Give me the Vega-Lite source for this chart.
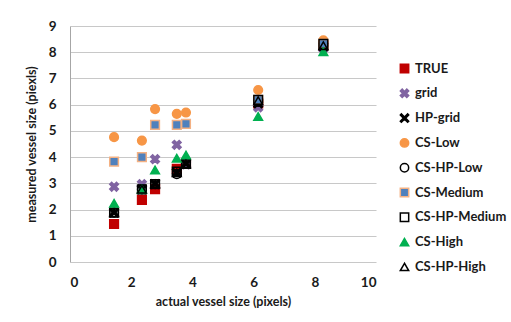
{
  "$schema": "https://vega.github.io/schema/vega-lite/v6.json",
  "autosize": "none",
  "width": 306,
  "height": 236,
  "padding": {"left": 70, "top": 26, "right": 135, "bottom": 60},
  "background": "white",
  "config": {
    "view": {"stroke": null},
    "font": "Lato",
    "axis": {"labelFont": "Lato", "titleFont": "Lato", "labelFontWeight": "bold", "titleFontWeight": "bold", "labelColor": "#1a1a1a", "titleColor": "#1a1a1a", "labelFontSize": 13.5, "titleFontSize": 12.5, "ticks": false, "domainColor": "#a6a6a6", "gridColor": "#c8c8c8", "gridWidth": 1.2}
  },
  "data": {
    "values": [
      {"x": 1.44, "y": 1.45, "s": "TRUE"},
      {"x": 2.35, "y": 2.37, "s": "TRUE"},
      {"x": 2.78, "y": 2.78, "s": "TRUE"},
      {"x": 3.49, "y": 3.55, "s": "TRUE"},
      {"x": 3.79, "y": 3.75, "s": "TRUE"},
      {"x": 6.15, "y": 6.05, "s": "TRUE"},
      {"x": 8.28, "y": 8.25, "s": "TRUE"},
      {"x": 1.44, "y": 2.87, "s": "grid"},
      {"x": 2.35, "y": 2.97, "s": "grid"},
      {"x": 2.78, "y": 3.92, "s": "grid"},
      {"x": 3.49, "y": 4.47, "s": "grid"},
      {"x": 3.79, "y": 3.72, "s": "grid"},
      {"x": 6.15, "y": 5.9, "s": "grid"},
      {"x": 8.28, "y": 8.15, "s": "grid"},
      {"x": 1.44, "y": 1.88, "s": "HP-grid"},
      {"x": 2.35, "y": 2.77, "s": "HP-grid"},
      {"x": 2.78, "y": 2.97, "s": "HP-grid"},
      {"x": 3.49, "y": 3.4, "s": "HP-grid"},
      {"x": 3.79, "y": 3.74, "s": "HP-grid"},
      {"x": 6.15, "y": 6.05, "s": "HP-grid"},
      {"x": 8.28, "y": 8.22, "s": "HP-grid"},
      {"x": 1.44, "y": 4.76, "s": "CS-Low"},
      {"x": 2.35, "y": 4.63, "s": "CS-Low"},
      {"x": 2.78, "y": 5.83, "s": "CS-Low"},
      {"x": 3.49, "y": 5.65, "s": "CS-Low"},
      {"x": 3.79, "y": 5.7, "s": "CS-Low"},
      {"x": 6.15, "y": 6.56, "s": "CS-Low"},
      {"x": 8.28, "y": 8.45, "s": "CS-Low"},
      {"x": 1.44, "y": 1.88, "s": "CS-HP-Low"},
      {"x": 2.35, "y": 2.77, "s": "CS-HP-Low"},
      {"x": 2.78, "y": 2.97, "s": "CS-HP-Low"},
      {"x": 3.49, "y": 3.35, "s": "CS-HP-Low"},
      {"x": 3.79, "y": 3.74, "s": "CS-HP-Low"},
      {"x": 6.15, "y": 6.1, "s": "CS-HP-Low"},
      {"x": 8.28, "y": 8.28, "s": "CS-HP-Low"},
      {"x": 1.44, "y": 3.83, "s": "CS-Medium"},
      {"x": 2.35, "y": 4.0, "s": "CS-Medium"},
      {"x": 2.78, "y": 5.23, "s": "CS-Medium"},
      {"x": 3.49, "y": 5.23, "s": "CS-Medium"},
      {"x": 3.79, "y": 5.27, "s": "CS-Medium"},
      {"x": 6.15, "y": 6.18, "s": "CS-Medium"},
      {"x": 8.28, "y": 8.32, "s": "CS-Medium"},
      {"x": 1.44, "y": 1.88, "s": "CS-HP-Medium"},
      {"x": 2.35, "y": 2.77, "s": "CS-HP-Medium"},
      {"x": 2.78, "y": 2.97, "s": "CS-HP-Medium"},
      {"x": 3.49, "y": 3.45, "s": "CS-HP-Medium"},
      {"x": 3.79, "y": 3.74, "s": "CS-HP-Medium"},
      {"x": 6.15, "y": 6.18, "s": "CS-HP-Medium"},
      {"x": 8.28, "y": 8.32, "s": "CS-HP-Medium"},
      {"x": 1.44, "y": 2.24, "s": "CS-High"},
      {"x": 2.35, "y": 2.77, "s": "CS-High"},
      {"x": 2.78, "y": 3.51, "s": "CS-High"},
      {"x": 3.49, "y": 3.96, "s": "CS-High"},
      {"x": 3.79, "y": 4.08, "s": "CS-High"},
      {"x": 6.15, "y": 5.55, "s": "CS-High"},
      {"x": 8.28, "y": 8.02, "s": "CS-High"},
      {"x": 1.44, "y": 1.88, "s": "CS-HP-High"},
      {"x": 2.35, "y": 2.77, "s": "CS-HP-High"},
      {"x": 2.78, "y": 2.97, "s": "CS-HP-High"},
      {"x": 3.49, "y": 3.4, "s": "CS-HP-High"},
      {"x": 3.79, "y": 3.74, "s": "CS-HP-High"},
      {"x": 6.15, "y": 6.15, "s": "CS-HP-High"},
      {"x": 8.28, "y": 8.25, "s": "CS-HP-High"}
    ]
  },
  "mark": {"type": "point", "filled": true, "size": 75, "strokeWidth": 1.5, "opacity": 1},
  "encoding": {
    "x": {"field": "x", "type": "quantitative", "scale": {"domain": [0, 10], "nice": false}, "axis": {"values": [0, 2, 4, 6, 8, 10], "grid": false, "domain": false, "labelPadding": 13, "title": "actual vessel size (pixels)", "titlePadding": 7}},
    "y": {"field": "y", "type": "quantitative", "scale": {"domain": [0, 9], "nice": false}, "axis": {"values": [0, 1, 2, 3, 4, 5, 6, 7, 8, 9], "grid": true, "labelPadding": 14, "title": "measured vessel size (piexls)", "titlePadding": 10}},
    "shape": {"field": "s", "type": "nominal", "sort": ["TRUE", "grid", "HP-grid", "CS-Low", "CS-HP-Low", "CS-Medium", "CS-HP-Medium", "CS-High", "CS-HP-High"],
      "scale": {"domain": ["TRUE", "grid", "HP-grid", "CS-Low", "CS-HP-Low", "CS-Medium", "CS-HP-Medium", "CS-High", "CS-HP-High"],
        "range": ["square", "M-1,-0.55L-0.55,-1L0,-0.45L0.55,-1L1,-0.55L0.45,0L1,0.55L0.55,1L0,0.45L-0.55,1L-1,0.55L-0.45,0Z", "M-1,-0.75L-0.75,-1L0,-0.25L0.75,-1L1,-0.75L0.25,0L1,0.75L0.75,1L0,0.25L-0.75,1L-1,0.75L-0.25,0Z", "circle", "circle", "square", "square", "triangle-up", "triangle-up"]},
      "legend": {"title": null, "orient": "none", "legendX": 328, "legendY": 36, "labelFont": "Lato", "labelFontWeight": "bold", "labelFontSize": 13, "labelColor": "#1a1a1a", "rowPadding": 9.8, "symbolSize": 70, "labelOffset": 4, "symbolStrokeWidth": 1.5, "labelLimit": 200}},
    "fill": {"field": "s", "type": "nominal",
      "scale": {"domain": ["TRUE", "grid", "HP-grid", "CS-Low", "CS-HP-Low", "CS-Medium", "CS-HP-Medium", "CS-High", "CS-HP-High"],
        "range": ["#C00000", "#8064A2", "#000000", "#F79646", "transparent", "#4F81BD", "transparent", "#00B050", "transparent"]}},
    "stroke": {"field": "s", "type": "nominal",
      "scale": {"domain": ["TRUE", "grid", "HP-grid", "CS-Low", "CS-HP-Low", "CS-Medium", "CS-HP-Medium", "CS-High", "CS-HP-High"],
        "range": ["#C00000", "#8064A2", "#000000", "#F79646", "#000000", "#F4B183", "#000000", "#00B050", "#000000"]}}
  }
}
